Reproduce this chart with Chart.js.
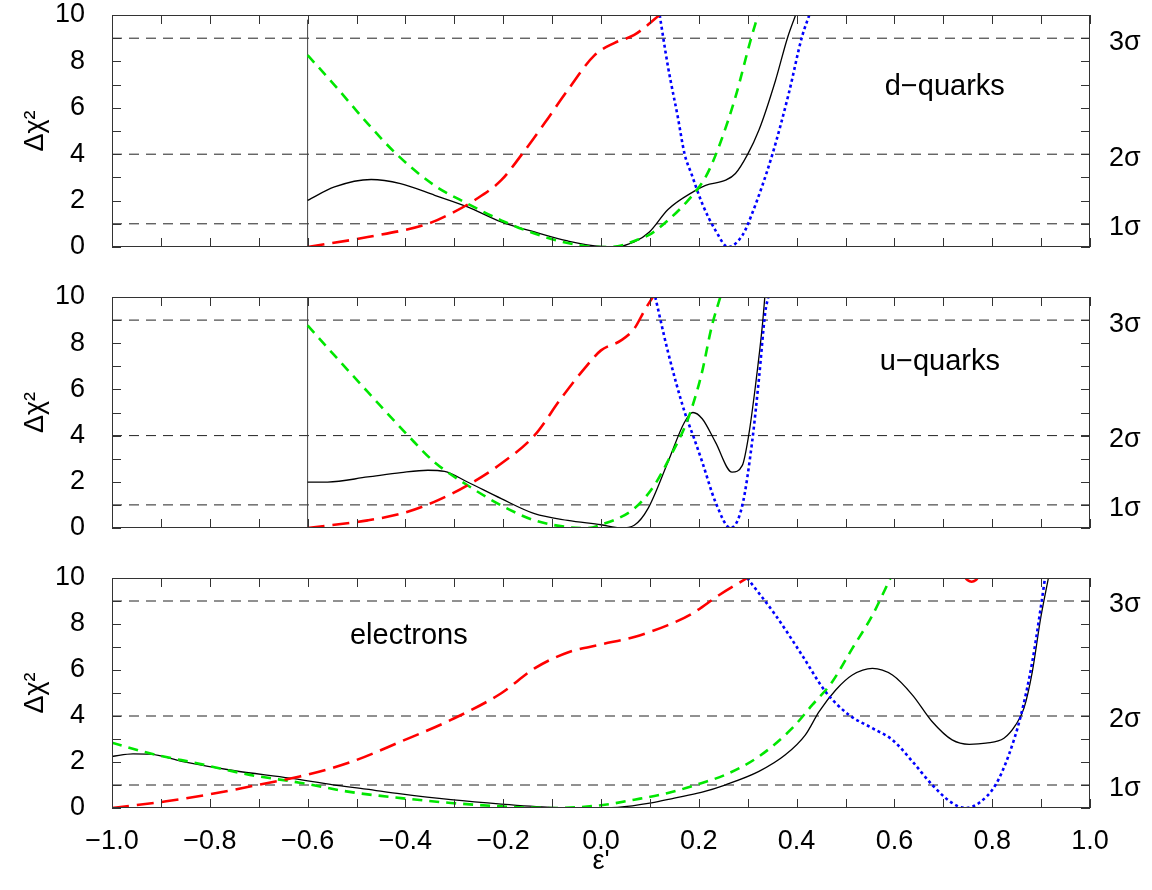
<!DOCTYPE html>
<html>
<head>
<meta charset="utf-8">
<title>Delta chi2 vs epsilon'</title>
<script src="https://cdn.jsdelivr.net/npm/chart.js@4.4.0/dist/chart.umd.min.js"></script>
<style>
  body { margin: 0; background: #fff; width: 1152px; height: 890px; position: relative; overflow: hidden; }
  .panel { position: absolute; left: 0; width: 1152px; }
  canvas { display: block; }
</style>
</head>
<body>
<div class="panel" style="top:0px"><canvas id="dPanel" width="1152" height="262"></canvas></div>
<div class="panel" style="top:282px"><canvas id="uPanel" width="1152" height="261"></canvas></div>
<div class="panel" style="top:563px"><canvas id="ePanel" width="1152" height="327"></canvas></div>

<script>
// ---- data ----
const xTickLabels = [-1.0, -0.8, -0.6, -0.4, -0.2, 0.0, 0.2, 0.4, 0.6, 0.8, 1.0];
const xTickMarks = [-1.0, -0.9, -0.8, -0.7, -0.6, -0.5, -0.4, -0.3, -0.2, -0.1, 0.0,
                    0.1, 0.2, 0.3, 0.4, 0.5, 0.6, 0.7, 0.8, 0.9, 1.0];
const yTickMarks = [0, 1, 2, 3, 4, 5, 6, 7, 8, 9, 10];
const sigmaLevels = [1, 4, 9];
const sigmaLabels = ['1σ', '2σ', '3σ'];
const fitEdgeX = -0.6;

// d-quarks
const dSolidX = [-0.6, -0.545, -0.47, -0.41, -0.34, -0.273, -0.204, -0.136, -0.068, 0.0, 0.03, 0.068, 0.099, 0.137, 0.19, 0.214, 0.255, 0.275, 0.299, 0.323, 0.357, 0.381, 0.398];
const dSolidY = [2.01, 2.59, 2.91, 2.73, 2.23, 1.73, 1.08, 0.65, 0.26, 0.03, 0.02, 0.22, 0.65, 1.62, 2.4, 2.66, 2.88, 3.17, 3.96, 5.04, 7.19, 8.99, 10.0];
const dGreenX = [-0.6, -0.545, -0.477, -0.416, -0.341, -0.273, -0.204, -0.136, -0.068, 0.0, 0.034, 0.068, 0.103, 0.137, 0.178, 0.214, 0.241, 0.275, 0.306, 0.321];
const dGreenY = [8.27, 6.98, 5.32, 3.96, 2.66, 1.87, 1.15, 0.58, 0.17, 0.0, 0.03, 0.26, 0.58, 1.15, 2.01, 3.02, 4.32, 6.47, 8.92, 10.0];
const dRedX = [-0.6, -0.477, -0.354, -0.307, -0.259, -0.204, -0.163, -0.116, -0.068, -0.013, 0.028, 0.068, 0.12];
const dRedY = [0.0, 0.43, 1.0, 1.44, 2.01, 2.88, 3.96, 5.32, 6.76, 8.27, 8.8, 9.14, 10.0];
const dBlueX = [0.12, 0.137, 0.157, 0.171, 0.185, 0.207, 0.234, 0.26, 0.289, 0.309, 0.35, 0.384, 0.411, 0.426];
const dBlueY = [10.0, 7.77, 5.61, 4.0, 3.15, 1.87, 0.72, 0.0, 0.5, 1.44, 3.96, 6.62, 9.06, 10.0];

// u-quarks
const uSolidX = [-0.6, -0.559, -0.477, -0.409, -0.354, -0.32, -0.273, -0.204, -0.136, -0.068, 0.0, 0.041, 0.068, 0.096, 0.137, 0.171, 0.188, 0.207, 0.234, 0.268, 0.289, 0.302, 0.316, 0.33, 0.335];
const uSolidY = [1.99, 1.99, 2.21, 2.40, 2.50, 2.45, 1.99, 1.27, 0.62, 0.33, 0.14, 0.0, 0.12, 0.84, 2.86, 4.59, 5.0, 4.73, 3.72, 2.42, 2.71, 4.01, 6.18, 8.77, 10.0];
const uGreenX = [-0.6, -0.545, -0.477, -0.395, -0.341, -0.273, -0.204, -0.136, -0.068, -0.027, 0.0, 0.068, 0.109, 0.143, 0.178, 0.205, 0.227, 0.244];
const uGreenY = [8.77, 7.47, 5.89, 4.01, 2.86, 1.85, 0.98, 0.33, 0.04, 0.0, 0.14, 0.84, 1.85, 3.15, 4.73, 6.61, 8.77, 10.0];
const uRedX = [-0.6, -0.477, -0.409, -0.341, -0.273, -0.204, -0.136, -0.082, -0.034, 0.0, 0.041, 0.068, 0.089, 0.106];
const uRedY = [0.0, 0.33, 0.62, 1.13, 1.85, 2.79, 4.01, 5.6, 6.9, 7.69, 8.12, 8.63, 9.42, 10.0];
const uBlueX = [0.111, 0.137, 0.171, 0.19, 0.207, 0.234, 0.265, 0.289, 0.309, 0.323, 0.336, 0.342];
const uBlueY = [10.0, 7.62, 5.02, 3.9, 2.86, 1.13, 0.0, 0.98, 3.72, 6.46, 9.35, 10.0];

// electrons
const eSolidX = [-1.0, -0.957, -0.923, -0.855, -0.752, -0.636, -0.548, -0.48, -0.409, -0.307, -0.204, -0.102, -0.034, 0.034, 0.103, 0.15, 0.205, 0.255, 0.323, 0.377, 0.418, 0.446, 0.48, 0.514, 0.555, 0.596, 0.637, 0.677, 0.718, 0.753, 0.787, 0.824, 0.848, 0.865, 0.882, 0.899, 0.915];
const eSolidY = [2.24, 2.35, 2.34, 2.02, 1.63, 1.30, 1.01, 0.82, 0.61, 0.36, 0.17, 0.03, 0.0, 0.03, 0.22, 0.43, 0.68, 1.01, 1.59, 2.31, 3.18, 4.19, 5.13, 5.78, 6.07, 5.78, 4.91, 3.76, 2.96, 2.77, 2.82, 3.03, 3.61, 4.34, 5.92, 8.24, 10.0];
const eGreenX = [-1.0, -0.923, -0.821, -0.718, -0.616, -0.514, -0.409, -0.307, -0.204, -0.102, 0.0, 0.068, 0.137, 0.205, 0.255, 0.323, 0.391, 0.432, 0.473, 0.514, 0.555, 0.592];
const eGreenY = [2.84, 2.38, 1.92, 1.44, 1.1, 0.7, 0.43, 0.22, 0.07, 0.0, 0.12, 0.36, 0.65, 1.08, 1.45, 2.24, 3.47, 4.48, 5.49, 6.94, 8.38, 10.0];
const eRedX = [-1.0, -0.889, -0.786, -0.684, -0.616, -0.514, -0.409, -0.307, -0.204, -0.136, -0.068, 0.0, 0.068, 0.137, 0.186, 0.241, 0.299, 0.5, 0.742, 0.75, 0.758, 0.766, 0.774];
const eRedY = [0.0, 0.29, 0.65, 1.08, 1.37, 1.98, 2.89, 3.83, 4.99, 6.07, 6.76, 7.11, 7.44, 7.95, 8.45, 9.25, 10.0, null, 10.1, 9.9, 9.84, 9.9, 10.1];
const eBlueX = [0.299, 0.357, 0.411, 0.459, 0.507, 0.555, 0.596, 0.637, 0.677, 0.718, 0.746, 0.773, 0.807, 0.834, 0.858, 0.882, 0.899, 0.908];
const eBlueY = [10.0, 8.38, 6.65, 5.06, 4.05, 3.47, 2.96, 2.02, 1.01, 0.22, 0.0, 0.22, 1.01, 2.31, 3.97, 6.36, 8.67, 10.0];

// ---- styles ----
const FONT = '"Liberation Sans", Arial, Helvetica, sans-serif';
const solidStyle = { borderColor: '#000000', borderWidth: 1.3 };
const greenStyle = { borderColor: '#00e600', borderWidth: 2.6, borderDash: [10, 7] };
const redStyle = { borderColor: '#ff0000', borderWidth: 2.6, borderDash: [17, 8] };
const blueStyle = { borderColor: '#0000ff', borderWidth: 2.6, borderDash: [3, 3] };

function pts(xs, ys) {
  return xs.map((x, i) => ({ x: x, y: ys[i] }));
}

function curve(xs, ys, style) {
  return Object.assign({
    data: pts(xs, ys),
    yAxisID: 'y',
    cubicInterpolationMode: 'monotone',
    spanGaps: false,
    pointRadius: 0,
    fill: false,
    order: 1
  }, style);
}

// frame, inward tick marks and the panel caption
const framePlugin = {
  id: 'frame',
  afterDatasetsDraw(chart, args, opts) {
    const { ctx, chartArea: a } = chart;
    const x = chart.scales.x, y = chart.scales.y;
    ctx.save();
    ctx.strokeStyle = '#333';
    ctx.lineWidth = 1;
    ctx.setLineDash([]);
    ctx.strokeRect(a.left + 0.5, a.top + 0.5, a.right - a.left - 1, a.bottom - a.top - 1);
    ctx.beginPath();
    xTickMarks.forEach(v => {
      const px = Math.round(x.getPixelForValue(v)) + 0.5;
      ctx.moveTo(px, a.top); ctx.lineTo(px, a.top + 9);
      ctx.moveTo(px, a.bottom); ctx.lineTo(px, a.bottom - 9);
    });
    yTickMarks.forEach(v => {
      const py = Math.round(y.getPixelForValue(v)) + 0.5;
      ctx.moveTo(a.left, py); ctx.lineTo(a.left + 9, py);
      ctx.moveTo(a.right, py); ctx.lineTo(a.right - 9, py);
    });
    ctx.stroke();
    ctx.fillStyle = '#000';
    ctx.font = '29px ' + FONT;
    ctx.textAlign = 'center';
    ctx.textBaseline = 'middle';
    ctx.fillText(opts.text, x.getPixelForValue(opts.tx), y.getPixelForValue(opts.ty));
    ctx.restore();
  }
};

function noOverflow(s, w) {
  s.width = w;
  s.paddingTop = 0;
  s.paddingBottom = 0;
}

function buildPanel(id, cfg) {
  const datasets = sigmaLevels.map(level => ({
    data: [{ x: -1, y: level }, { x: 1, y: level }],
    yAxisID: 'y',
    borderColor: '#222',
    borderWidth: 1,
    borderDash: [10, 7],
    pointRadius: 0,
    order: 5
  }));
  if (cfg.edge) {
    datasets.push({
      data: [{ x: fitEdgeX, y: 0 }, { x: fitEdgeX, y: cfg.edgeTop }],
      yAxisID: 'y',
      borderColor: '#444',
      borderWidth: 1,
      pointRadius: 0,
      order: 4
    });
  }
  datasets.push(curve(cfg.red[0], cfg.red[1], redStyle));
  datasets.push(curve(cfg.green[0], cfg.green[1], greenStyle));
  datasets.push(curve(cfg.blue[0], cfg.blue[1], blueStyle));
  datasets.push(curve(cfg.solid[0], cfg.solid[1], solidStyle));

  new Chart(document.getElementById(id), {
    type: 'line',
    data: { datasets: datasets },
    options: {
      responsive: false,
      animation: false,
      layout: { padding: { top: 15, left: 0, right: 0, bottom: 0 }, autoPadding: false },
      plugins: {
        legend: { display: false },
        tooltip: { enabled: false },
        frame: { text: cfg.text, tx: cfg.tx, ty: cfg.ty }
      },
      scales: {
        x: {
          type: 'linear',
          min: -1,
          max: 1,
          grid: { display: false },
          border: { display: false },
          afterBuildTicks: s => { s.ticks = xTickLabels.map(v => ({ value: v })); },
          ticks: {
            display: cfg.xLabels,
            color: '#000',
            padding: 9,
            maxRotation: 0,
            font: { size: 27, family: FONT },
            callback: v => (v < -1e-9 ? '\u2212' : '') + Math.abs(v).toFixed(1)
          },
          title: {
            display: cfg.xLabels,
            text: "\u03b5'",
            color: '#000',
            font: { size: 27, family: FONT },
            padding: { top: 0, bottom: 12 }
          },
          afterFit: s => { s.height = cfg.bottom; s.paddingLeft = 0; s.paddingRight = 0; }
        },
        y: {
          position: 'left',
          min: 0,
          max: 10,
          grid: { display: false },
          border: { display: false },
          ticks: { stepSize: 2, color: '#000', padding: 19, font: { size: 27, family: FONT } },
          title: {
            display: true,
            text: '\u0394\u03c7\u00b2',
            color: '#000',
            font: { size: 27, family: FONT },
            padding: { top: 19, bottom: 0 }
          },
          afterFit: s => noOverflow(s, 112)
        },
        y2: {
          position: 'right',
          min: 0,
          max: 10,
          grid: { display: false },
          border: { display: false },
          afterBuildTicks: s => { s.ticks = sigmaLevels.map(v => ({ value: v })); },
          ticks: {
            color: '#000',
            padding: 11,
            labelOffset: 4,
            font: { size: 27, family: FONT },
            callback: v => sigmaLabels[sigmaLevels.indexOf(v)]
          },
          afterFit: s => noOverflow(s, 62)
        }
      }
    },
    plugins: [framePlugin]
  });
}

buildPanel('dPanel', {
  solid: [dSolidX, dSolidY], green: [dGreenX, dGreenY], red: [dRedX, dRedY], blue: [dBlueX, dBlueY],
  edge: true, edgeTop: 9.8, xLabels: false, bottom: 15,
  text: 'd\u2212quarks', tx: 0.703, ty: 6.9
});
buildPanel('uPanel', {
  solid: [uSolidX, uSolidY], green: [uGreenX, uGreenY], red: [uRedX, uRedY], blue: [uBlueX, uBlueY],
  edge: true, edgeTop: 10, xLabels: false, bottom: 15,
  text: 'u\u2212quarks', tx: 0.693, ty: 7.2
});
buildPanel('ePanel', {
  solid: [eSolidX, eSolidY], green: [eGreenX, eGreenY], red: [eRedX, eRedY], blue: [eBlueX, eBlueY],
  edge: false, xLabels: true, bottom: 82,
  text: 'electrons', tx: -0.393, ty: 7.5
});
</script>
</body>
</html>
